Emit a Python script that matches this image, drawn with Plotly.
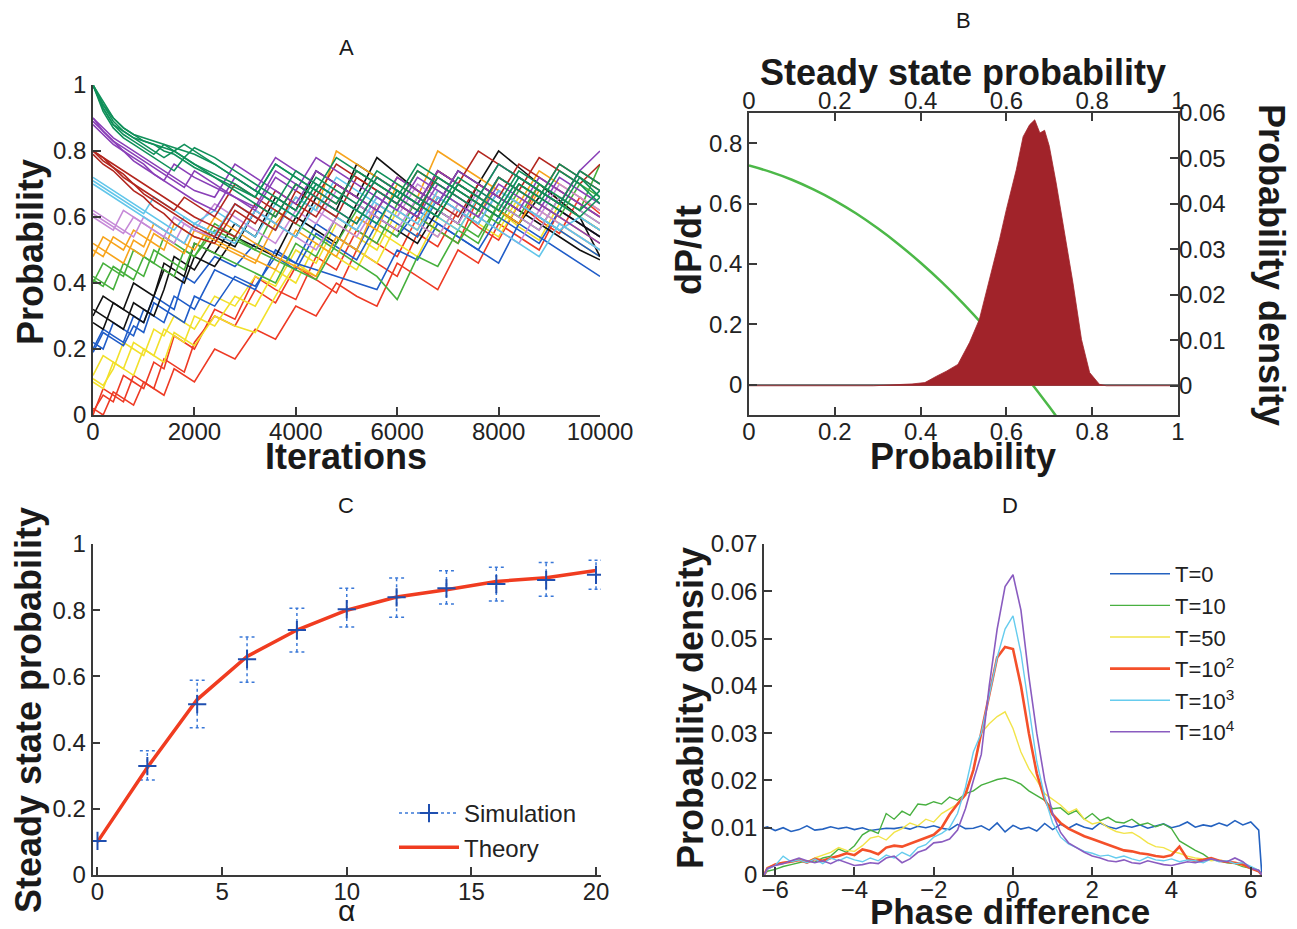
import plotly.graph_objects as go

W, H = 1297, 929          # target picture size
OFF = 8                   # page body margin around the plot div
FW, FH = W - OFF, H - OFF
FONT = "Liberation Sans, Arial, sans-serif"

# ---------------- panel A: probability vs iterations ----------------
ITERS = [0, 200, 400, 600, 800, 1000, 1200, 1400, 1600, 1800, 2000,
         2400, 2800, 3200, 3600, 4000, 4400, 4800, 5200, 5600, 6000,
         6400, 6800, 7200, 7600, 8000, 8400, 8800, 9200, 9600, 10000]

RUNS_P00 = [
    [0.00, 0.08, 0.06, 0.04, 0.12, 0.10, 0.08, 0.17, 0.15, 0.13, 0.22,
     0.30, 0.27, 0.38, 0.34, 0.45, 0.41, 0.37, 0.50, 0.46, 0.42, 0.55, 0.51, 0.62, 0.57, 0.53, 0.64, 0.59, 0.55, 0.66, 0.61],
    [0.02, 0.00, 0.07, 0.05, 0.03, 0.10, 0.08, 0.06, 0.14, 0.12, 0.10,
     0.20, 0.17, 0.26, 0.23, 0.33, 0.30, 0.40, 0.36, 0.33, 0.46, 0.42, 0.38, 0.50, 0.46, 0.58, 0.54, 0.50, 0.62, 0.58, 0.54],
    [0.01, 0.06, 0.04, 0.12, 0.10, 0.08, 0.16, 0.14, 0.24, 0.22, 0.20,
     0.32, 0.29, 0.42, 0.38, 0.35, 0.48, 0.44, 0.56, 0.52, 0.48, 0.60, 0.56, 0.52, 0.66, 0.62, 0.58, 0.70, 0.65, 0.60, 0.56],
]
RUNS_P01 = [
    [0.10, 0.08, 0.16, 0.14, 0.12, 0.20, 0.18, 0.26, 0.24, 0.22, 0.30,
     0.27, 0.36, 0.33, 0.44, 0.40, 0.52, 0.48, 0.44, 0.56, 0.52, 0.48, 0.60, 0.56, 0.66, 0.62, 0.57, 0.53, 0.64, 0.60, 0.56],
    [0.12, 0.18, 0.16, 0.14, 0.22, 0.20, 0.18, 0.16, 0.25, 0.23, 0.21,
     0.30, 0.27, 0.25, 0.36, 0.46, 0.42, 0.54, 0.50, 0.46, 0.58, 0.54, 0.66, 0.62, 0.58, 0.54, 0.64, 0.60, 0.56, 0.52, 0.48],
    [0.11, 0.09, 0.14, 0.22, 0.20, 0.18, 0.26, 0.24, 0.30, 0.28, 0.26,
     0.36, 0.33, 0.42, 0.39, 0.50, 0.46, 0.58, 0.54, 0.50, 0.62, 0.58, 0.54, 0.64, 0.60, 0.56, 0.66, 0.62, 0.58, 0.54, 0.50],
]
RUNS_P02 = [
    [0.20, 0.26, 0.24, 0.22, 0.30, 0.28, 0.36, 0.34, 0.32, 0.42, 0.40,
     0.48, 0.45, 0.52, 0.49, 0.46, 0.44, 0.42, 0.40, 0.38, 0.50, 0.47, 0.58, 0.54, 0.50, 0.46, 0.58, 0.54, 0.50, 0.46, 0.42],
    [0.22, 0.20, 0.28, 0.26, 0.24, 0.32, 0.30, 0.28, 0.36, 0.34, 0.32,
     0.44, 0.41, 0.38, 0.50, 0.46, 0.58, 0.54, 0.50, 0.62, 0.58, 0.54, 0.66, 0.62, 0.58, 0.68, 0.64, 0.60, 0.56, 0.52, 0.48],
    [0.19, 0.25, 0.23, 0.21, 0.27, 0.25, 0.34, 0.32, 0.30, 0.28, 0.36,
     0.33, 0.42, 0.39, 0.48, 0.44, 0.55, 0.51, 0.47, 0.58, 0.54, 0.62, 0.58, 0.54, 0.50, 0.60, 0.56, 0.52, 0.62, 0.58, 0.54],
]
RUNS_P03 = [
    [0.30, 0.36, 0.34, 0.32, 0.40, 0.38, 0.36, 0.46, 0.44, 0.42, 0.52,
     0.49, 0.58, 0.54, 0.66, 0.62, 0.74, 0.70, 0.66, 0.78, 0.73, 0.68, 0.64, 0.74, 0.70, 0.80, 0.75, 0.70, 0.65, 0.60, 0.48],
    [0.28, 0.26, 0.34, 0.32, 0.30, 0.28, 0.36, 0.44, 0.42, 0.40, 0.48,
     0.45, 0.54, 0.51, 0.48, 0.60, 0.56, 0.52, 0.64, 0.60, 0.56, 0.52, 0.62, 0.58, 0.70, 0.66, 0.62, 0.58, 0.54, 0.50, 0.47],
    [0.32, 0.30, 0.28, 0.26, 0.34, 0.32, 0.30, 0.38, 0.48, 0.46, 0.44,
     0.54, 0.51, 0.62, 0.58, 0.54, 0.66, 0.62, 0.76, 0.72, 0.68, 0.64, 0.74, 0.70, 0.66, 0.62, 0.58, 0.66, 0.62, 0.58, 0.54],
]
RUNS_P04 = [
    [0.40, 0.46, 0.44, 0.42, 0.50, 0.48, 0.46, 0.54, 0.52, 0.50, 0.48,
     0.58, 0.54, 0.50, 0.62, 0.58, 0.54, 0.50, 0.46, 0.42, 0.35, 0.48, 0.45, 0.56, 0.52, 0.64, 0.60, 0.70, 0.66, 0.62, 0.76],
    [0.42, 0.40, 0.38, 0.46, 0.44, 0.42, 0.50, 0.48, 0.46, 0.44, 0.52,
     0.49, 0.46, 0.43, 0.40, 0.52, 0.48, 0.60, 0.56, 0.52, 0.64, 0.60, 0.56, 0.52, 0.62, 0.58, 0.68, 0.64, 0.60, 0.70, 0.66],
    [0.41, 0.39, 0.45, 0.43, 0.41, 0.48, 0.46, 0.44, 0.42, 0.50, 0.48,
     0.56, 0.53, 0.50, 0.47, 0.44, 0.41, 0.52, 0.62, 0.58, 0.54, 0.66, 0.62, 0.58, 0.54, 0.64, 0.60, 0.56, 0.66, 0.62, 0.58],
]
RUNS_P05 = [
    [0.50, 0.48, 0.54, 0.52, 0.50, 0.48, 0.55, 0.53, 0.51, 0.49, 0.56,
     0.53, 0.50, 0.47, 0.44, 0.56, 0.52, 0.48, 0.60, 0.56, 0.70, 0.66, 0.80, 0.76, 0.72, 0.68, 0.64, 0.74, 0.70, 0.66, 0.62],
    [0.48, 0.54, 0.52, 0.50, 0.56, 0.54, 0.52, 0.50, 0.58, 0.56, 0.54,
     0.52, 0.49, 0.46, 0.58, 0.66, 0.62, 0.80, 0.76, 0.72, 0.68, 0.64, 0.60, 0.70, 0.66, 0.62, 0.58, 0.68, 0.64, 0.60, 0.56],
    [0.52, 0.50, 0.48, 0.46, 0.53, 0.51, 0.58, 0.56, 0.54, 0.52, 0.50,
     0.60, 0.56, 0.52, 0.48, 0.45, 0.42, 0.54, 0.50, 0.64, 0.60, 0.56, 0.68, 0.64, 0.60, 0.72, 0.68, 0.64, 0.60, 0.56, 0.52],
]
RUNS_P06 = [
    [0.60, 0.58, 0.56, 0.62, 0.60, 0.58, 0.56, 0.54, 0.60, 0.58, 0.56,
     0.54, 0.64, 0.60, 0.56, 0.66, 0.62, 0.58, 0.54, 0.64, 0.60, 0.70, 0.66, 0.62, 0.58, 0.68, 0.64, 0.60, 0.70, 0.66, 0.62],
    [0.62, 0.60, 0.58, 0.56, 0.54, 0.60, 0.58, 0.56, 0.54, 0.52, 0.58,
     0.55, 0.52, 0.62, 0.58, 0.54, 0.50, 0.60, 0.56, 0.66, 0.62, 0.58, 0.54, 0.64, 0.60, 0.56, 0.52, 0.62, 0.58, 0.54, 0.50],
    [0.61, 0.59, 0.57, 0.55, 0.60, 0.58, 0.56, 0.54, 0.52, 0.58, 0.56,
     0.64, 0.60, 0.56, 0.52, 0.62, 0.58, 0.68, 0.64, 0.60, 0.56, 0.66, 0.62, 0.58, 0.68, 0.64, 0.60, 0.56, 0.66, 0.62, 0.58],
]
RUNS_P07 = [
    [0.72, 0.70, 0.68, 0.66, 0.64, 0.62, 0.60, 0.58, 0.56, 0.60, 0.58,
     0.55, 0.52, 0.62, 0.58, 0.54, 0.64, 0.60, 0.56, 0.66, 0.62, 0.58, 0.68, 0.64, 0.60, 0.56, 0.52, 0.48, 0.58, 0.54, 0.50],
    [0.70, 0.68, 0.66, 0.64, 0.62, 0.60, 0.58, 0.56, 0.54, 0.52, 0.58,
     0.55, 0.64, 0.60, 0.56, 0.66, 0.62, 0.72, 0.68, 0.64, 0.60, 0.56, 0.66, 0.62, 0.58, 0.68, 0.64, 0.60, 0.56, 0.60, 0.56],
    [0.71, 0.69, 0.67, 0.65, 0.63, 0.61, 0.66, 0.64, 0.62, 0.60, 0.58,
     0.62, 0.58, 0.54, 0.64, 0.60, 0.70, 0.66, 0.62, 0.58, 0.68, 0.64, 0.60, 0.56, 0.66, 0.62, 0.72, 0.68, 0.64, 0.60, 0.56],
]
RUNS_P08 = [
    [0.80, 0.78, 0.76, 0.74, 0.72, 0.70, 0.68, 0.66, 0.64, 0.62, 0.60,
     0.57, 0.54, 0.64, 0.60, 0.70, 0.66, 0.76, 0.72, 0.68, 0.64, 0.74, 0.70, 0.66, 0.62, 0.72, 0.68, 0.78, 0.74, 0.70, 0.76],
    [0.80, 0.77, 0.75, 0.72, 0.70, 0.67, 0.65, 0.63, 0.61, 0.59, 0.57,
     0.54, 0.64, 0.60, 0.56, 0.68, 0.64, 0.60, 0.72, 0.68, 0.64, 0.60, 0.74, 0.70, 0.80, 0.76, 0.72, 0.68, 0.64, 0.74, 0.70],
    [0.79, 0.76, 0.74, 0.71, 0.68, 0.66, 0.63, 0.61, 0.58, 0.56, 0.54,
     0.52, 0.62, 0.58, 0.68, 0.64, 0.60, 0.70, 0.66, 0.62, 0.72, 0.68, 0.64, 0.60, 0.70, 0.66, 0.76, 0.72, 0.68, 0.64, 0.60],
    [0.80, 0.78, 0.75, 0.73, 0.70, 0.68, 0.66, 0.64, 0.62, 0.66, 0.64,
     0.60, 0.70, 0.66, 0.62, 0.58, 0.68, 0.64, 0.74, 0.70, 0.66, 0.62, 0.72, 0.68, 0.64, 0.60, 0.70, 0.66, 0.76, 0.72, 0.68],
]
RUNS_P09 = [
    [0.90, 0.87, 0.84, 0.82, 0.80, 0.78, 0.76, 0.74, 0.72, 0.70, 0.68,
     0.66, 0.76, 0.72, 0.68, 0.64, 0.74, 0.70, 0.66, 0.62, 0.72, 0.68, 0.64, 0.74, 0.70, 0.66, 0.62, 0.72, 0.68, 0.64, 0.60],
    [0.90, 0.86, 0.83, 0.80, 0.78, 0.76, 0.73, 0.71, 0.69, 0.67, 0.65,
     0.62, 0.72, 0.68, 0.78, 0.74, 0.70, 0.66, 0.62, 0.72, 0.68, 0.64, 0.74, 0.70, 0.66, 0.76, 0.72, 0.68, 0.64, 0.74, 0.80],
    [0.88, 0.85, 0.82, 0.80, 0.77, 0.75, 0.73, 0.71, 0.76, 0.74, 0.72,
     0.69, 0.66, 0.63, 0.74, 0.70, 0.66, 0.62, 0.58, 0.68, 0.64, 0.60, 0.70, 0.66, 0.62, 0.72, 0.68, 0.64, 0.60, 0.56, 0.52],
    [0.89, 0.86, 0.83, 0.81, 0.79, 0.77, 0.75, 0.73, 0.71, 0.69, 0.74,
     0.70, 0.66, 0.62, 0.72, 0.68, 0.78, 0.74, 0.70, 0.66, 0.62, 0.72, 0.68, 0.64, 0.60, 0.70, 0.66, 0.62, 0.72, 0.68, 0.64],
]
RUNS_P10 = [
    [1.00, 0.93, 0.88, 0.85, 0.83, 0.81, 0.79, 0.82, 0.80, 0.78, 0.81,
     0.78, 0.74, 0.70, 0.66, 0.62, 0.72, 0.68, 0.64, 0.74, 0.70, 0.66, 0.62, 0.72, 0.68, 0.64, 0.74, 0.70, 0.66, 0.62, 0.68],
    [1.00, 0.94, 0.89, 0.86, 0.84, 0.82, 0.80, 0.78, 0.80, 0.78, 0.76,
     0.73, 0.70, 0.66, 0.76, 0.72, 0.68, 0.64, 0.74, 0.70, 0.66, 0.76, 0.72, 0.68, 0.64, 0.60, 0.70, 0.66, 0.76, 0.72, 0.66],
    [1.00, 0.92, 0.87, 0.84, 0.82, 0.80, 0.78, 0.76, 0.74, 0.78, 0.76,
     0.72, 0.68, 0.64, 0.60, 0.70, 0.66, 0.62, 0.58, 0.68, 0.64, 0.74, 0.70, 0.66, 0.62, 0.72, 0.68, 0.64, 0.74, 0.70, 0.64],
    [1.00, 0.93, 0.88, 0.86, 0.84, 0.83, 0.82, 0.81, 0.80, 0.82, 0.80,
     0.76, 0.72, 0.68, 0.64, 0.60, 0.70, 0.66, 0.62, 0.72, 0.68, 0.64, 0.60, 0.70, 0.66, 0.62, 0.72, 0.68, 0.64, 0.74, 0.70],
    [1.00, 0.95, 0.90, 0.87, 0.85, 0.83, 0.82, 0.80, 0.79, 0.77, 0.75,
     0.72, 0.69, 0.66, 0.76, 0.72, 0.68, 0.78, 0.74, 0.70, 0.66, 0.62, 0.72, 0.68, 0.64, 0.60, 0.70, 0.66, 0.62, 0.72, 0.68],
    [1.00, 0.94, 0.90, 0.87, 0.85, 0.84, 0.83, 0.82, 0.81, 0.80, 0.79,
     0.76, 0.72, 0.68, 0.64, 0.74, 0.70, 0.66, 0.62, 0.58, 0.68, 0.64, 0.60, 0.70, 0.66, 0.76, 0.72, 0.68, 0.64, 0.60, 0.66],
]

# ---------------- panel B: dP/dt and steady state histogram ----------------
P_GRID = [0.0, 0.05, 0.10, 0.15, 0.20, 0.25, 0.30, 0.35, 0.40, 0.45,
          0.50, 0.55, 0.60, 0.65, 0.70, 0.715]
DPDT = [0.726, 0.705, 0.679, 0.647, 0.610, 0.567, 0.518, 0.464, 0.404, 0.339,
        0.268, 0.191, 0.108, 0.020, -0.073, -0.102]

HIST_P = [0.0, 0.29, 0.38, 0.41, 0.437, 0.46, 0.487, 0.514, 0.537, 0.561,
          0.584, 0.60, 0.623, 0.639, 0.654, 0.666, 0.678, 0.689, 0.70, 0.716,
          0.736, 0.755, 0.775, 0.794, 0.817, 0.833, 1.0]
HIST_D = [0.0, 0.0, 0.0004, 0.0007, 0.0021, 0.0032, 0.0047, 0.0095, 0.0146, 0.0234,
          0.0322, 0.0388, 0.0475, 0.0548, 0.0574, 0.0585, 0.0556, 0.0562, 0.0527, 0.0446,
          0.0336, 0.0227, 0.0102, 0.0029, 0.0003, 0.0, 0.0]

# ---------------- panel C: steady state vs alpha ----------------
ALPHA = [0, 2, 4, 6, 8, 10, 12, 14, 16, 18, 20]
SIM_MEAN = [0.103, 0.329, 0.516, 0.652, 0.740, 0.803, 0.839, 0.866, 0.879, 0.891, 0.907]
SIM_LO = [0.103, 0.287, 0.445, 0.582, 0.674, 0.749, 0.779, 0.819, 0.828, 0.842, 0.863]
SIM_HI = [0.103, 0.375, 0.588, 0.719, 0.806, 0.866, 0.897, 0.919, 0.930, 0.944, 0.951]
THEORY = [0.100, 0.325, 0.530, 0.660, 0.740, 0.800, 0.840, 0.862, 0.887, 0.898, 0.920]

# ---------------- panel D: phase difference distributions ----------------
PHASE = [-6.28, -6.2, -6.0, -5.8, -5.6,
         -5.4, -5.2, -5.0, -4.8, -4.6, -4.4, -4.2, -4.0, -3.8, -3.6,
         -3.4, -3.2, -3.0, -2.8, -2.6, -2.4, -2.2, -2.0, -1.8, -1.6,
         -1.4, -1.2, -1.0, -0.8, -0.6, -0.4, -0.2, 0.0, 0.2, 0.4,
         0.6, 0.8, 1.0, 1.2, 1.4, 1.6, 1.8, 2.0, 2.2, 2.4,
         2.6, 2.8, 3.0, 3.2, 3.4, 3.6, 3.8, 4.0, 4.2, 4.4,
         4.6, 4.8, 5.0, 5.2, 5.4, 5.6, 5.8, 6.0, 6.2, 6.28]
PD_T0 = [0.0100, 0.0102, 0.0094, 0.0100, 0.0092,
         0.0096, 0.0104, 0.0095, 0.0097, 0.0102, 0.0098, 0.0101, 0.0096, 0.0100, 0.0094,
         0.0097, 0.0099, 0.0098, 0.0101, 0.0097, 0.0103, 0.0100, 0.0104, 0.0099, 0.0096,
         0.0107, 0.0098, 0.0099, 0.0104, 0.0095, 0.0110, 0.0091, 0.0105, 0.0097, 0.0101,
         0.0093, 0.0109, 0.0096, 0.0107, 0.0099, 0.0108, 0.0101, 0.0097, 0.0110, 0.0102,
         0.0098, 0.0104, 0.0101, 0.0106, 0.0099, 0.0103, 0.0108, 0.0100, 0.0104, 0.0112,
         0.0101, 0.0106, 0.0103, 0.0110, 0.0104, 0.0115, 0.0106, 0.0112, 0.0095, 0.0]
PD_T10 = [0.0, 0.0008, 0.0012, 0.0018, 0.0022,
          0.0026, 0.0030, 0.0027, 0.0036, 0.0040, 0.0055, 0.0048, 0.0062, 0.0085, 0.0095,
          0.0088, 0.0130, 0.0118, 0.0135, 0.0126, 0.0150, 0.0148, 0.0155, 0.0150, 0.0165,
          0.0158, 0.0172, 0.0178, 0.0190, 0.0196, 0.0202, 0.0205, 0.0200, 0.0192, 0.0178,
          0.0168, 0.0158, 0.0140, 0.0142, 0.0128, 0.0136, 0.0118, 0.0130, 0.0115, 0.0122,
          0.0112, 0.0110, 0.0118, 0.0106, 0.0110, 0.0102, 0.0108, 0.0098, 0.0072, 0.0062,
          0.0052, 0.0044, 0.0032, 0.0030, 0.0026, 0.0024, 0.0018, 0.0014, 0.0008, 0.0]
PD_T50 = [0.0, 0.0016, 0.0022, 0.0026, 0.0030,
          0.0034, 0.0028, 0.0036, 0.0042, 0.0048, 0.0058, 0.0052, 0.0050, 0.0062, 0.0078,
          0.0082, 0.0074, 0.0090, 0.0098, 0.0110, 0.0104, 0.0118, 0.0112, 0.0130, 0.0140,
          0.0150, 0.0175, 0.0220, 0.0300, 0.0320, 0.0335, 0.0345, 0.0310, 0.0260, 0.0225,
          0.0200, 0.0172, 0.0160, 0.0148, 0.0132, 0.0140, 0.0118, 0.0108, 0.0112, 0.0100,
          0.0092, 0.0088, 0.0090, 0.0080, 0.0068, 0.0060, 0.0058, 0.0050, 0.0046, 0.0040,
          0.0036, 0.0034, 0.0030, 0.0032, 0.0028, 0.0025, 0.0020, 0.0016, 0.0010, 0.0]
PD_T100 = [0.0, 0.0014, 0.0022, 0.0026, 0.0028,
           0.0032, 0.0026, 0.0034, 0.0030, 0.0036, 0.0040, 0.0046, 0.0042, 0.0054, 0.0050,
           0.0044, 0.0058, 0.0062, 0.0060, 0.0066, 0.0072, 0.0078, 0.0085, 0.0100, 0.0128,
           0.0150, 0.0170, 0.0222, 0.0300, 0.0380, 0.0460, 0.0482, 0.0478, 0.0400, 0.0300,
           0.0215, 0.0160, 0.0128, 0.0110, 0.0098, 0.0090, 0.0082, 0.0076, 0.0070, 0.0064,
           0.0058, 0.0052, 0.0050, 0.0046, 0.0044, 0.0040, 0.0038, 0.0042, 0.0060, 0.0034,
           0.0030, 0.0032, 0.0036, 0.0030, 0.0028, 0.0026, 0.0022, 0.0014, 0.0008, 0.0]
PD_T1000 = [0.0, 0.0012, 0.0020, 0.0040, 0.0028,
            0.0032, 0.0026, 0.0034, 0.0024, 0.0036, 0.0030, 0.0038, 0.0032, 0.0028, 0.0036,
            0.0030, 0.0042, 0.0036, 0.0048, 0.0040, 0.0058, 0.0064, 0.0080, 0.0088, 0.0100,
            0.0130, 0.0185, 0.0260, 0.0300, 0.0380, 0.0460, 0.0520, 0.0548, 0.0470, 0.0350,
            0.0240, 0.0165, 0.0110, 0.0080, 0.0066, 0.0058, 0.0050, 0.0046, 0.0040, 0.0042,
            0.0036, 0.0040, 0.0034, 0.0030, 0.0038, 0.0032, 0.0030, 0.0034, 0.0028, 0.0032,
            0.0030, 0.0026, 0.0034, 0.0028, 0.0030, 0.0024, 0.0026, 0.0018, 0.0010, 0.0]
PD_T10000 = [0.0, 0.0014, 0.0020, 0.0024, 0.0030,
             0.0036, 0.0030, 0.0026, 0.0030, 0.0024, 0.0032, 0.0026, 0.0020, 0.0022, 0.0026,
             0.0024, 0.0036, 0.0040, 0.0026, 0.0034, 0.0048, 0.0054, 0.0068, 0.0070, 0.0076,
             0.0095, 0.0140, 0.0200, 0.0255, 0.0400, 0.0520, 0.0610, 0.0635, 0.0560, 0.0420,
             0.0300, 0.0200, 0.0130, 0.0090, 0.0068, 0.0058, 0.0048, 0.0040, 0.0036, 0.0030,
             0.0028, 0.0032, 0.0026, 0.0024, 0.0030, 0.0026, 0.0022, 0.0020, 0.0024, 0.0028,
             0.0026, 0.0030, 0.0034, 0.0030, 0.0028, 0.0036, 0.0028, 0.0014, 0.0010, 0.0]
PD_NAMES = ["T=0", "T=10", "T=50", "T=10<sup>2</sup>", "T=10<sup>3</sup>", "T=10<sup>4</sup>"]


# positions below are measured in picture pixels; the div sits OFF px in from the corner
def px(x):
    return (x - OFF) / FW


def py(y):
    return 1 - (y - OFF) / FH


def axis_style(**kw):
    base = dict(showline=True, linecolor="#3a3a3a", linewidth=1.5, ticks="inside", ticklen=8,
                tickwidth=1.5, tickcolor="#3a3a3a", showgrid=False, zeroline=False,
                automargin=False, tickfont=dict(family=FONT, size=24, color="#222"))
    base.update(kw)
    return base


fig = go.Figure()

# panel A, low starting values first so green ends up on top
run_groups = [RUNS_P00, RUNS_P01, RUNS_P02, RUNS_P03, RUNS_P04, RUNS_P05,
              RUNS_P06, RUNS_P07, RUNS_P08, RUNS_P09, RUNS_P10]
run_colors = ["#ee3a24", "#f2e02a", "#1f5cc8", "#111111", "#46b03c", "#f7a41c",
              "#c68ad8", "#62c6ea", "#b3261e", "#8a40b8", "#10905a"]
for runs, color in zip(run_groups, run_colors):
    for run in runs:
        fig.add_trace(go.Scatter(x=ITERS, y=run, mode="lines", showlegend=False,
                                 line=dict(color=color, width=1.6), xaxis="x", yaxis="y"))

# panel B
fig.add_trace(go.Scatter(x=HIST_P, y=HIST_D, mode="lines", fill="tozeroy", showlegend=False,
                         fillcolor="#a1232a", line=dict(color="#a1232a", width=0.8),
                         xaxis="x3", yaxis="y3"))
fig.add_trace(go.Scatter(x=P_GRID, y=DPDT, mode="lines", line=dict(color="#4cb848", width=2.5),
                         line_shape="spline", showlegend=False, xaxis="x2", yaxis="y2"))

# panel C: dotted error bars built from the lo/hi arrays
CAP = 0.3
bar_x, bar_y = [], []
for a, lo, hi in zip(ALPHA, SIM_LO, SIM_HI):
    bar_x += [a, a, None, a - CAP, a + CAP, None, a - CAP, a + CAP, None]
    bar_y += [lo, hi, None, lo, lo, None, hi, hi, None]
fig.add_trace(go.Scatter(x=bar_x, y=bar_y, mode="lines", showlegend=False,
                         line=dict(color="#3a78d8", width=1.5, dash="dot"),
                         xaxis="x4", yaxis="y4"))
fig.add_trace(go.Scatter(x=ALPHA, y=THEORY, mode="lines", name="Theory", legendrank=2,
                         line=dict(color="#f03c20", width=3.5), xaxis="x4", yaxis="y4",
                         legend="legend"))
sim_x = [v for a in ALPHA for v in (a, None)]
sim_y = [v for m in SIM_MEAN for v in (m, None)]
fig.add_trace(go.Scatter(x=sim_x, y=sim_y, mode="lines+markers", name="Simulation", legendrank=1,
                         connectgaps=False,
                         marker=dict(symbol="cross-thin", size=13, line=dict(color="#1f4fb0", width=2)),
                         line=dict(color="#3a78d8", width=1.5, dash="dot"),
                         xaxis="x4", yaxis="y4", legend="legend"))

# panel D
pd_series = [PD_T0, PD_T10, PD_T50, PD_T100, PD_T1000, PD_T10000]
pd_colors = ["#2462c0", "#48b040", "#f2e44a", "#f4502a", "#66ccee", "#8a5cc0"]
pd_widths = [1.6, 1.4, 1.4, 2.6, 1.4, 1.6]
for ys, name, color, lw in zip(pd_series, PD_NAMES, pd_colors, pd_widths):
    fig.add_trace(go.Scatter(x=PHASE, y=ys, mode="lines", name=name,
                             line=dict(color=color, width=lw),
                             xaxis="x5", yaxis="y5", legend="legend2"))


def label(text, x, y, size=36, bold=True, angle=0):
    if bold:
        text = "<b>" + text + "</b>"
    return dict(text=text, x=px(x), y=py(y), xref="paper", yref="paper", showarrow=False,
                xanchor="center", yanchor="middle", textangle=angle,
                font=dict(family=FONT, size=size, color="#1a1a1a"))


annotations = [
    label("A", 346, 47, 22, False),
    label("B", 963, 20, 22, False),
    label("C", 346, 505, 22, False),
    label("D", 1010, 505, 22, False),
    label("Probability", 30, 252, angle=-90),
    label("Iterations", 346, 456),
    label("Steady state probability", 963, 72),
    label("Probability", 963, 456),
    label("dP/dt", 688, 250, angle=-90),
    label("Probability density", 1272, 265, angle=90),
    label("Steady state probability", 28, 710, angle=-90),
    label("α", 346, 910, 30, False),
    label("Probability density", 690, 708, angle=-90),
    label("Phase difference", 1010, 911, 35),
]

fig.update_layout(
    width=FW, height=FH,
    margin=dict(l=0, r=0, t=0, b=0),
    paper_bgcolor="white", plot_bgcolor="white",
    font=dict(family=FONT, color="#222"),
    annotations=annotations,
    # A
    xaxis=axis_style(domain=[px(93), px(600)], range=[0, 10000], anchor="y",
                     tickvals=[0, 2000, 4000, 6000, 8000, 10000], tickformat="d",
                     ticklabelstandoff=-6),
    yaxis=axis_style(domain=[py(415), py(85)], range=[0, 1], anchor="x", dtick=0.2),
    # B
    xaxis2=axis_style(domain=[px(749), px(1178)], range=[0, 1], anchor="y2", dtick=0.2,
                      mirror=True, ticklabelstandoff=-6),
    xaxis3=axis_style(overlaying="x2", side="top", range=[0, 1], anchor="y2", dtick=0.2,
                      showline=False, ticklabelstandoff=-2),
    yaxis2=axis_style(domain=[py(415), py(113)], range=[-0.1, 0.9], anchor="x2", dtick=0.2,
                      tick0=0, mirror=True, zeroline=True, zerolinecolor="#777",
                      zerolinewidth=1.5),
    yaxis3=axis_style(overlaying="y2", side="right", range=[-0.00643, 0.06], anchor="x2",
                      dtick=0.01, tick0=0, showline=False),
    # C
    xaxis4=axis_style(domain=[px(92.5), px(601)], range=[-0.2, 20.2], anchor="y4", dtick=5,
                      ticklabelstandoff=-6),
    yaxis4=axis_style(domain=[py(875), py(544)], range=[0, 1], anchor="x4", dtick=0.2),
    # D
    xaxis5=axis_style(domain=[px(764), px(1262)], range=[-6.2832, 6.2832], anchor="y5",
                      dtick=2, tick0=0, ticklabelstandoff=-8),
    yaxis5=axis_style(domain=[py(875), py(544)], range=[0, 0.07], anchor="x5", dtick=0.01),
    legend=dict(x=px(582), y=py(870), xanchor="right", yanchor="bottom",
                bgcolor="rgba(0,0,0,0)", font=dict(family=FONT, size=24, color="#222"),
                itemwidth=60),
    legend2=dict(x=px(1240), y=py(553), xanchor="right", yanchor="top",
                 bgcolor="rgba(0,0,0,0)", font=dict(family=FONT, size=22, color="#222"),
                 itemwidth=60),
)

fig.write_html("out.html")
